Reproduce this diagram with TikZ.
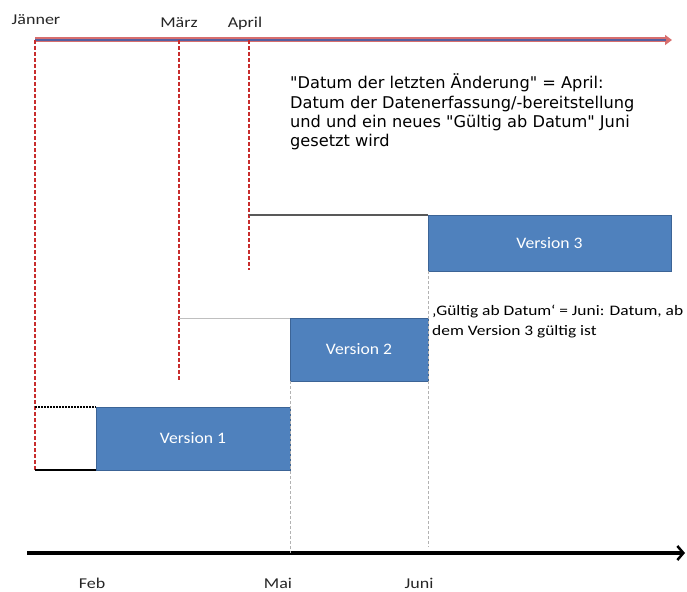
\documentclass[tikz,border=0pt]{standalone}
\usepackage{fontspec}
\setmainfont{Carlito}
\newfontfamily\verd{DejaVu Sans}
\usetikzlibrary{arrows.meta}
\definecolor{vblue}{RGB}{79,129,189}
\definecolor{vborder}{RGB}{60,100,150}
\definecolor{axred}{RGB}{215,110,110}
\definecolor{axblue}{RGB}{85,95,160}
\definecolor{dred}{RGB}{200,45,45}
\newcommand{\wide}[2][1.2]{\scalebox{#1}[1]{#2}}
\tikzset{
  vbox/.style={draw=vborder, line width=1pt, fill=vblue, text=white, font=\fontsize{16}{18}\selectfont, inner sep=0pt, outer sep=0pt, anchor=north west},
  reddash/.style={dred, line width=1.2pt, dash pattern=on 4pt off 2pt},
  graydash/.style={gray!60, line width=0.8pt, dash pattern=on 3pt off 2pt},
  month/.style={font=\fontsize{15}{17}\selectfont, inner sep=0pt, anchor=base, text=black!85},
}
\begin{document}
\begin{tikzpicture}[x=1pt,y=-1pt]
\useasboundingbox (0,0) rectangle (687,591);
% coordinates
\coordinate (tl) at (35,40);
\coordinate (tr) at (672,40);
\coordinate (mtop) at (179,40);
\coordinate (atop) at (249,40);
\coordinate (jbot) at (35,470);
\coordinate (mbot) at (179,380);
\coordinate (abot) at (249,270);
\coordinate (bl) at (27,553);
\coordinate (br) at (685,553);
% top axis
\draw[axred, line width=5pt, -{Triangle[length=7pt,width=10pt]}] (tl) -- (tr);
\draw[axblue, line width=2pt] (tl) -- ([xshift=-6pt]tr);
% red dashed lines
\draw[reddash] (tl) -- (jbot);
\draw[reddash] (mtop) -- (mbot);
\draw[reddash] (atop) -- (abot);
% boxes
\node[vbox, minimum width=243pt, minimum height=56pt] (v3) at (428,215) {\wide[1.1]{Version 3}};
\node[vbox, minimum width=138pt, minimum height=63pt] (v2) at (290,318) {\wide[1.1]{Version 2}};
\node[vbox, minimum width=194pt, minimum height=63pt] (v1) at (96,407) {\wide[1.1]{Version 1}};
% connector lines
\coordinate (a3) at (249,215);
\coordinate (m2) at (179,318);
\coordinate (j1t) at (35,407);
\coordinate (j1b) at (35,470);
\draw[black!65, line width=1.2pt] (a3) -- (v3.north west);
\draw[black!25, line width=1pt] (m2) -- (v2.north west);
\draw[black, line width=1.2pt, dash pattern=on 2pt off 1pt] (j1t) -- (v1.north west);
\draw[black, line width=1.5pt] (j1b) -- (v1.south west);
% bottom axis
\draw[black, line width=4pt, -{Straight Barb[length=6pt,width=14pt,line width=2.5pt]}] (bl) -- (br);
% gray dashed verticals
\coordinate (mai) at (290,553);
\coordinate (juni) at (428,547);
\draw[graydash] (v2.south west) -- (mai);
\draw[graydash] (v3.south west) -- (juni);
% month labels
\node[month] (jan) at (36,25) {\wide{Jänner}};
\node[month] (mar) at (179,28) {\wide{März}};
\node[month] (apr) at (245,28) {\wide{April}};
\node[month] (feb) at (92,588) {\wide{Feb}};
\node[month] (mai-l) at (278,588) {\wide{Mai}};
\node[month] (jun-l) at (419,588) {\wide{Juni}};
% texts
\node[anchor=base west, inner sep=0pt, font=\verd\fontsize{16.2}{19}\selectfont] (txt) at (290,89)
{\begin{tabular}[t]{@{}l@{}}"Datum der letzten Änderung" = April:\\Datum der Datenerfassung/-bereitstellung\\und und ein neues "Gültig ab Datum" Juni\\gesetzt wird\end{tabular}};
\begin{scope}
\clip (0,0) rectangle (687,591);
\node[anchor=base west, inner sep=0pt, font=\fontsize{14.5}{20}\selectfont] (ann) at (432,315)
{\wide[1.2]{\begin{tabular}[t]{@{}l@{}}‚Gültig ab Datum‘ = Juni: Datum, ab\\dem Version 3 gültig ist\end{tabular}}};
\end{scope}
\end{tikzpicture}
\end{document}
